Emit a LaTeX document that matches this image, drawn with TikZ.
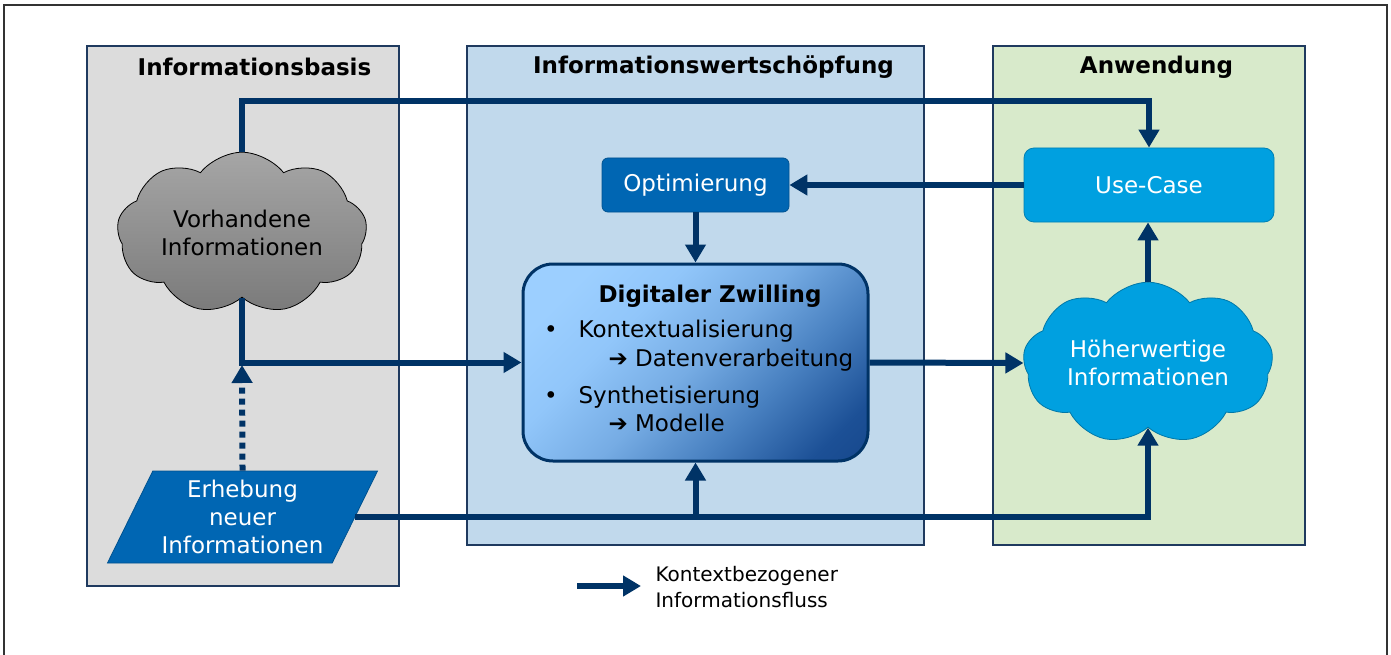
\documentclass[tikz,border=0pt]{standalone}
\usepackage{fontspec}
\setmainfont{DejaVu Sans}
\usetikzlibrary{arrows.meta,shapes.symbols,shapes.geometric,calc}
\definecolor{navy}{RGB}{0,51,102}
\definecolor{panelline}{RGB}{31,58,95}
\definecolor{grayfill}{RGB}{220,220,220}
\definecolor{bluefill}{RGB}{193,217,236}
\definecolor{greenfill}{RGB}{216,234,203}
\definecolor{darkblue}{RGB}{0,102,179}
\definecolor{cyanblue}{RGB}{0,160,224}
\definecolor{dzlight}{RGB}{156,207,255}
\definecolor{dzlight2}{RGB}{145,198,250}
\definecolor{dzmid}{RGB}{118,172,228}
\definecolor{dzmid2}{RGB}{72,128,192}
\definecolor{dzdark2}{RGB}{28,80,150}
\definecolor{dzdark}{RGB}{12,56,122}
\pgfdeclareverticalshading{dzshade}{100bp}{color(0bp)=(dzdark); color(22bp)=(dzdark2); color(36bp)=(dzmid2); color(50bp)=(dzmid); color(64bp)=(dzlight2); color(76bp)=(dzlight); color(100bp)=(dzlight)}
\tikzset{
  txt/.style={font=\fontsize{23}{28}\selectfont, align=center},
  title/.style={font=\fontsize{23}{28}\selectfont\bfseries},
  panel/.style={draw=panelline, line width=1.2pt},
  flow/.style={draw=navy, line width=6pt, -{Triangle[length=18pt,width=20pt]}},
  boxdark/.style={rectangle, rounded corners=6pt, fill=darkblue, draw=darkblue!80!black, line width=0.8pt, text=white, txt},
  boxcyan/.style={rectangle, rounded corners=10pt, fill=cyanblue, draw=cyanblue!80!black, line width=0.8pt, text=white, txt},
  cloudshape/.style={cloud, cloud puffs=9, cloud puff arc=105, aspect=1.75, inner sep=0pt, minimum width=250pt, minimum height=146pt, txt},
}
\begin{document}
\begin{tikzpicture}[x=1pt,y=-1pt]
\useasboundingbox (0,0) rectangle (1391,655);
% outer frame
\draw[black!80, line width=1.5pt] (4,655) -- (4,5) -- (1387,5) -- (1387,655);
% panels
\path[panel, fill=grayfill] (87,46) rectangle (399,586);
\path[panel, fill=bluefill] (467,46) rectangle (924,545);
\path[panel, fill=greenfill] (993,46) rectangle (1305,545);
\node[title] (t1) at (254.5,67) {Informationsbasis};
\node[title] (t2) at (713.5,67) {Informationswertschöpfung};
\node[title] (t3) at (1156.5,67) {Anwendung};
% nodes
\node[cloudshape, draw=black, line width=0.8pt, top color=black!35, bottom color=black!52] (gray) at (242,233) {Vorhandene\\Informationen};
\node[cloudshape, draw=cyanblue!75!black, line width=0.8pt, fill=cyanblue, text=white] (blue) at (1148,363) {Höherwertige\\Informationen};
\node[trapezium, trapezium left angle=61, trapezium right angle=119, trapezium stretches=true, minimum width=271pt, minimum height=92pt, inner sep=0pt, fill=darkblue, draw=darkblue!80!black, line width=0.8pt, text=white, txt] (para) at (242.5,517) {Erhebung\\neuer\\Informationen};
\node[boxdark, minimum width=187pt, minimum height=54pt] (opt) at (695.5,185) {Optimierung};
\node[boxcyan, minimum width=250pt, minimum height=74pt] (uc) at (1149,185) {Use-Case};
\node[rectangle, rounded corners=30pt, minimum width=345pt, minimum height=197pt, draw=navy, line width=3pt, shading=dzshade, shading angle=45] (dz) at (695.5,362.5) {};
% DZ text
\node[title, anchor=base] (dzt) at (710,302) {Digitaler Zwilling};
\node[txt, anchor=base] (b1) at (551,337) {•};
\node[txt, anchor=base west] (k1) at (575,337) {Kontextualisierung};
\node[txt, anchor=base west] (k2) at (605,366) {➔ Datenverarbeitung};
\node[txt, anchor=base] (b2) at (551,403) {•};
\node[txt, anchor=base west] (s1) at (575,403) {Synthetisierung};
\node[txt, anchor=base west] (s2) at (605,431) {➔ Modelle};
% coordinates
\coordinate (junction) at (242,362);
\coordinate (pr) at ($(para.bottom right corner)!0.5!(para.top right corner)$);
\coordinate (topline) at (242,101);
% connectors
\draw[flow] (gray.north) -- (gray.north |- topline) -| (uc.north);
\draw[flow] (gray.south) |- (dz.west);
\draw[draw=navy, line width=6pt, dash pattern=on 6pt off 5pt, -{Triangle[length=18pt,width=20pt]}] (para.north) -- ($(junction)+(0,3)$);
\draw[flow] (pr) -| (blue.south);
\draw[flow] (dz.south |- pr) -- (dz.south);
\draw[flow] (uc.west) -- (opt.east);
\draw[flow] (opt.south) -- (dz.north);
\draw[flow] (dz.east) -- (blue.west);
\draw[flow] (blue.north) -- (blue.north |- uc.south);
% legend
\coordinate (la) at (577,586);
\coordinate (lb) at (641,586);
\draw[flow] (la) -- (lb);
\node[anchor=west, align=left, font=\fontsize{20}{26}\selectfont] (legend) at (652,587) {Kontextbezogener\\Informationsfluss};
\end{tikzpicture}
\end{document}
